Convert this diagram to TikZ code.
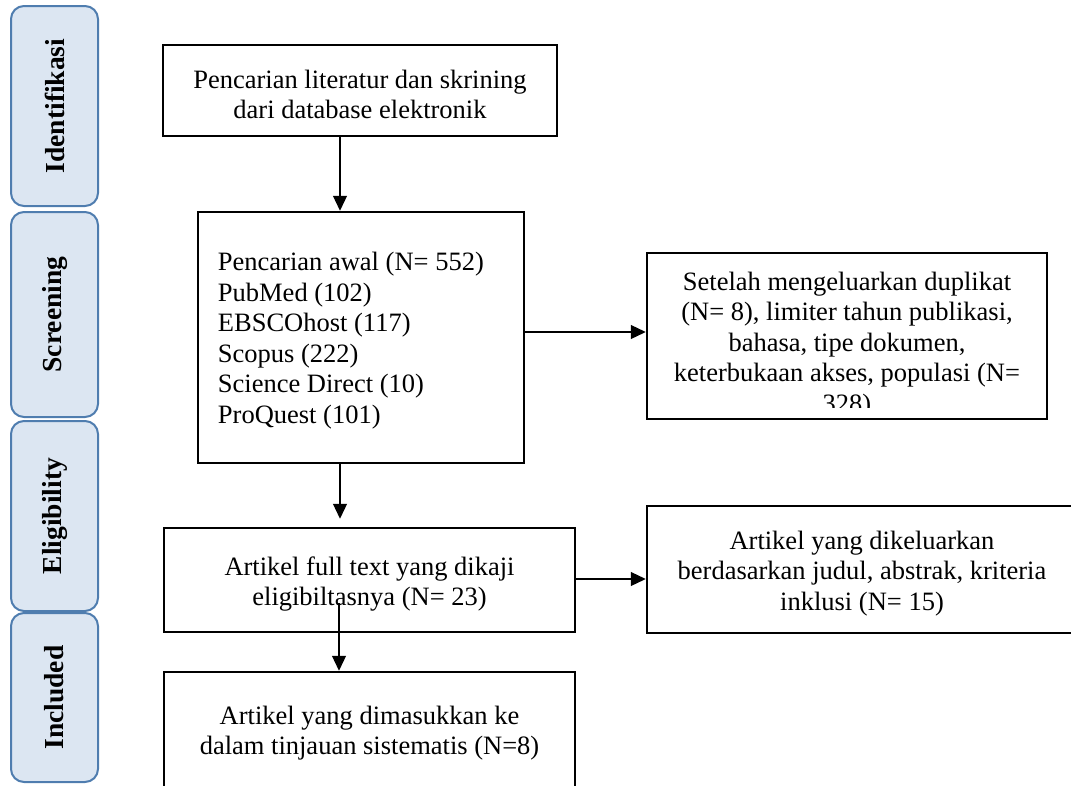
\documentclass[tikz,border=0pt]{standalone}
\usepackage{fontspec}
\setmainfont{Liberation Serif}
\usetikzlibrary{arrows.meta}
\definecolor{phasefill}{HTML}{DCE6F2}
\definecolor{phasedraw}{HTML}{4F7DAF}
\begin{document}
\begin{tikzpicture}[x=1pt,y=-1pt,
  every node/.style={font=\fontsize{26.5}{30.5}\selectfont},
  box/.style={draw=black, line width=2.5pt, fill=white, inner sep=0pt},
  txt/.style={inner sep=0pt, align=center},
  phase/.style={draw=phasedraw, fill=phasefill, line width=2pt, rounded corners=13pt, rotate=90,
    font=\fontsize{27.5}{31}\selectfont\bfseries, minimum height=87pt, inner sep=0pt},
  arr/.style={line width=1.2pt, -{Triangle[length=15pt,width=14pt]}}]
\useasboundingbox (0,0) rectangle (1071,785);
\clip (0,0) rectangle (1071,785);
% phase bars
\node[phase, minimum width=200pt] (p1) at (54.5,106) {Identifikasi};
\node[phase, minimum width=205pt] (p2) at (54.5,314.5) {Screening};
\node[phase, minimum width=190pt] (p3) at (54.5,516) {Eligibility};
\node[phase, minimum width=169pt] (p4) at (54.5,697.5) {Included};
% boxes
\node[box, minimum width=394pt, minimum height=91pt] (b1) at (360,90.5) {};
\node[txt] (t1) at ([yshift=-4pt]b1.center) {Pencarian literatur dan skrining\\dari database elektronik};
\node[box, minimum width=326pt, minimum height=251pt] (b2) at (361,337.5) {};
\node[txt, align=left, anchor=west] (t2) at ([xshift=21pt,yshift=-3pt]b2.west)
  {Pencarian awal (N= 552)\\PubMed (102)\\EBSCOhost (117)\\Scopus (222)\\Science Direct (10)\\ProQuest (101)};
\node[box, minimum width=400pt, minimum height=166pt] (b3) at (847,336) {};
\begin{scope}
\clip ([xshift=1.3pt,yshift=-1.3pt]b3.north west) rectangle ([xshift=-1.3pt,yshift=13pt]b3.south east);
\node[txt] (t3) at (847,345)
  {Setelah mengeluarkan duplikat\\(N= 8), limiter tahun publikasi,\\bahasa, tipe dokumen,\\keterbukaan akses, populasi (N=\\328)};
\end{scope}
\node[box, minimum width=411pt, minimum height=104pt] (b4) at (369.5,580) {};
\node[txt] (t4) at ([yshift=-4pt]b4.center) {Artikel full text yang dikaji\\eligibiltasnya (N= 23)};
\node[box, minimum width=430pt, minimum height=127pt] (b5) at (862,569.5) {};
\node[txt] (t5) at ([yshift=-4pt]b5.center) {Artikel yang dikeluarkan\\berdasarkan judul, abstrak, kriteria\\inklusi (N= 15)};
\node[box, minimum width=411pt, minimum height=128pt] (b6) at (369.5,736) {};
\node[txt] (t6) at (369.5,733) {Artikel yang dimasukkan ke\\dalam tinjauan sistematis (N=8)};
% connectors
\coordinate (cx) at (340,0);
\coordinate (a2y) at (0,332);
\coordinate (a4y) at (0,579);
\coordinate (c5) at (339,603);
\draw[arr] (b1.south -| cx) -- (b2.north -| cx);
\draw[arr] (b2.east |- a2y) -- (b3.west |- a2y);
\draw[arr] (b2.south -| cx) -- ([yshift=8pt]b4.north -| cx);
\draw[arr] ([xshift=-2pt]b4.east |- a4y) -- (b5.west |- a4y);
\draw[arr] (c5) -- (b6.north -| c5);
\end{tikzpicture}
\end{document}
